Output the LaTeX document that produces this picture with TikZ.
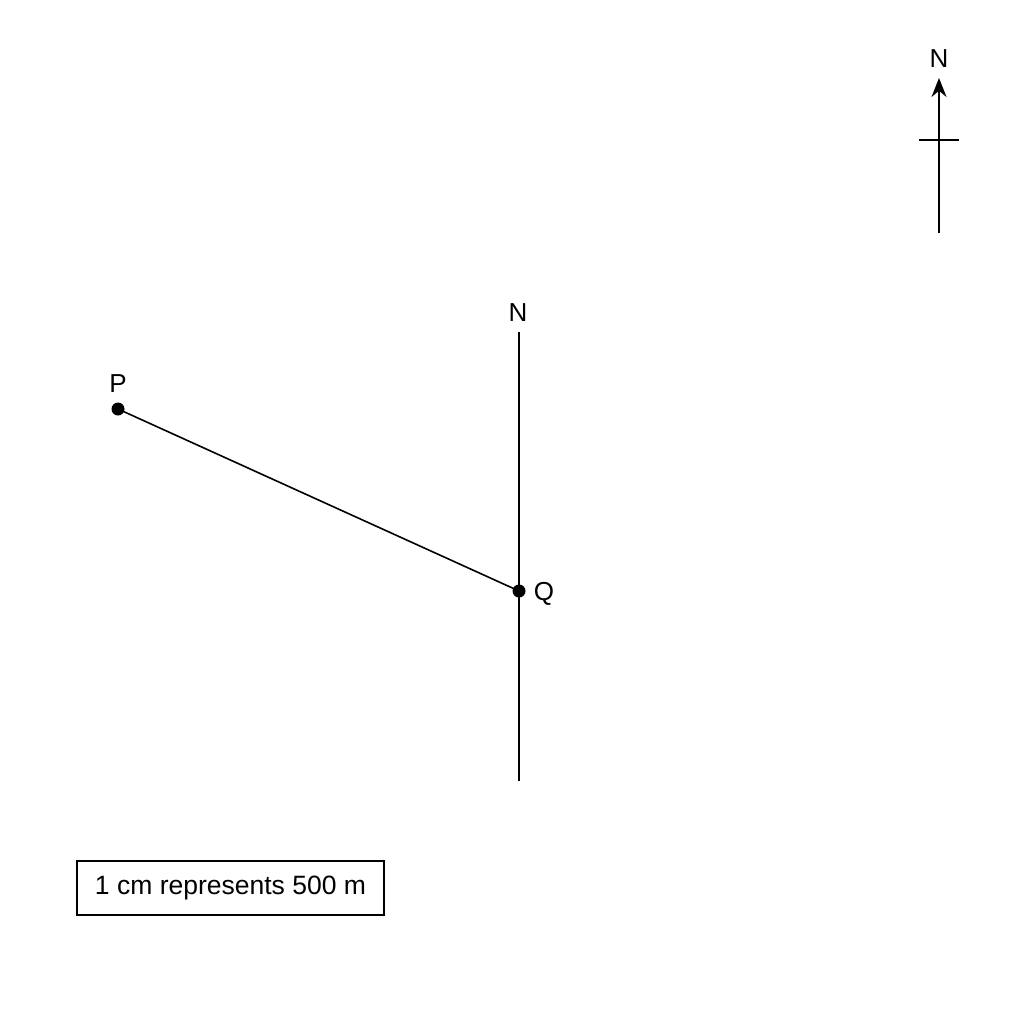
\documentclass[tikz,border=0pt]{standalone}
\usepackage{fontspec}
\setmainfont{Liberation Sans}
\usetikzlibrary{arrows.meta}
\begin{document}
\begin{tikzpicture}[x=1pt,y=-1pt,
  ln/.style={line width=1.6pt,black},
  lbl/.style={font=\fontsize{26}{30}\selectfont,inner sep=0pt},
  dotnode/.style={circle,fill=black,minimum size=13pt,inner sep=0pt}]
\useasboundingbox[fill=white] (0,0) rectangle (1024,1024);
% north arrow
\coordinate (nb) at (939,233);
\coordinate (nt) at (939,78);
\coordinate (cl) at (919,140);
\coordinate (cr) at (959,140);
\draw[ln,-{Stealth[length=19pt,width=15pt]}] (nb) -- (nt);
\draw[ln] (cl) -- (cr);
\node[lbl] (nlab) at (939,59) {N};
% main north line
\coordinate (mt) at (519,332);
\coordinate (mb) at (519,781);
\draw[ln] (mt) -- (mb);
\node[lbl] (nlab2) at (518,313) {N};
% points
\node[dotnode] (P) at (118,409) {};
\node[dotnode] (Q) at (519,591) {};
\draw[ln] (P.center) -- (Q.center);
\node[lbl] (plab) at (118,384) {P};
\node[lbl] (qlab) at (544,594) {Q};
% scale box
\node[draw,line width=1.5pt,minimum width=307pt,minimum height=54pt,inner sep=0pt,
  font=\fontsize{26.5}{30}\selectfont] (scale) at (230.5,888) {1 cm represents 500 m};
\end{tikzpicture}
\end{document}
